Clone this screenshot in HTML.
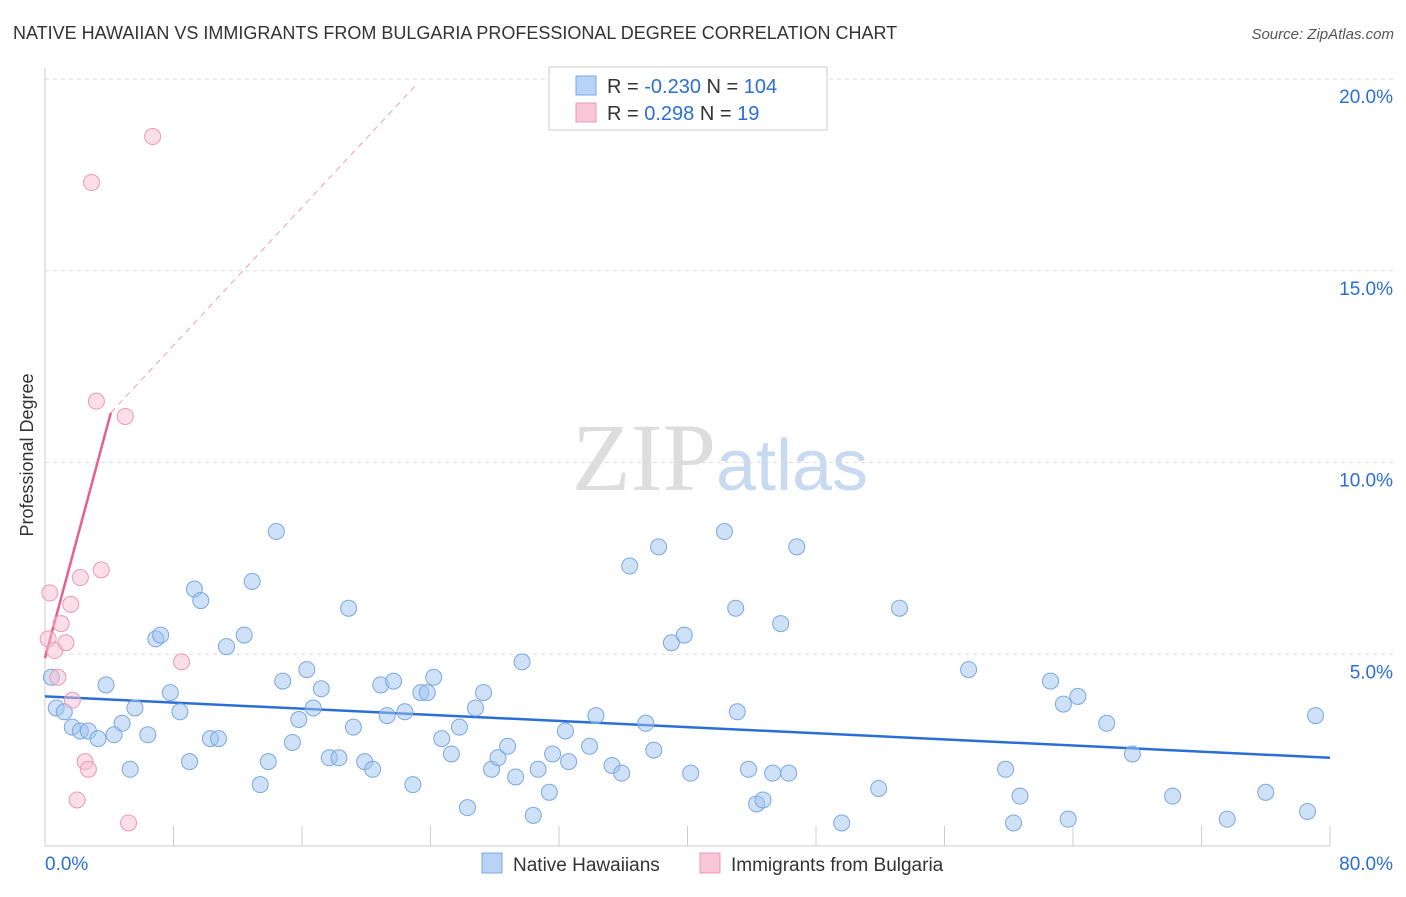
<!DOCTYPE html>
<html><head><meta charset="utf-8"><style>
body{margin:0;background:#fff;font-family:"Liberation Sans",sans-serif}
</style></head><body>
<svg width="1406" height="892" xmlns="http://www.w3.org/2000/svg" font-family="Liberation Sans, sans-serif">
<text x="13" y="39" font-size="18" fill="#333">NATIVE HAWAIIAN VS IMMIGRANTS FROM BULGARIA PROFESSIONAL DEGREE CORRELATION CHART</text>
<text x="1394" y="39" font-size="15" fill="#555" text-anchor="end" font-style="italic">Source: ZipAtlas.com</text>
<text x="720" y="490" font-size="96" text-anchor="middle" fill="#ddd" font-family="Liberation Serif, serif">ZIP<tspan fill="#c8daf0" font-family="Liberation Sans, sans-serif" font-size="72">atlas</tspan></text>
<g id="grid"></g><g id="axes"></g>
<text transform="translate(33,455) rotate(-90)" font-size="18" fill="#333" text-anchor="middle">Professional Degree</text>
<g id="trend"></g><g id="pts"></g>
<g>
<rect x="549" y="67" width="278" height="63" fill="#fff" stroke="#ccc"/>
<rect x="576" y="76" width="20" height="19" fill="#b8d3f5" stroke="#7aa8e0"/>
<rect x="576" y="103" width="20" height="19" fill="#f9c6d6" stroke="#ec98b4"/>
<text x="607" y="93" font-size="20" fill="#333">R = <tspan fill="#2a6fd6">-0.230</tspan>   N = <tspan fill="#2a6fd6">104</tspan></text>
<text x="607" y="120" font-size="20" fill="#333">R =   <tspan fill="#2a6fd6">0.298</tspan>   N =   <tspan fill="#2a6fd6">19</tspan></text>
</g>
<g>
<rect x="482" y="853" width="20" height="20" fill="#b8d3f5" stroke="#7aa8e0"/>
<text x="513" y="871" font-size="19" fill="#333">Native Hawaiians</text>
<rect x="700" y="853" width="20" height="20" fill="#f9c6d6" stroke="#ec98b4"/>
<text x="731" y="871" font-size="19" fill="#333">Immigrants from Bulgaria</text>
</g>
</svg>
<script>
const blueX=[0.4,0.7,1.2,1.7,2.2,2.7,3.3,3.8,4.3,4.8,5.3,5.6,6.4,6.9,7.2,7.8,8.4,9.0,9.3,9.7,10.3,10.8,11.3,12.4,12.9,13.4,13.9,14.4,14.8,15.4,15.8,16.3,16.7,17.2,17.7,18.3,18.9,19.2,19.9,20.4,20.9,21.3,21.7,22.4,22.9,23.4,23.8,24.2,24.7,25.3,25.8,26.3,26.8,27.3,27.8,28.2,28.8,29.3,29.7,30.4,30.7,31.4,31.6,32.4,32.6,33.9,34.3,35.3,35.9,36.4,37.4,37.9,38.2,39.0,39.8,40.2,42.3,43.0,43.1,43.8,44.3,44.7,45.3,45.8,46.3,46.8,49.6,51.9,53.2,57.5,59.8,60.3,60.7,62.6,63.4,63.7,64.3,66.1,67.7,70.2,73.6,76.0,78.6,79.1];
const blueY=[4.4,3.6,3.5,3.1,3.0,3.0,2.8,4.2,2.9,3.2,2.0,3.6,2.9,5.4,5.5,4.0,3.5,2.2,6.7,6.4,2.8,2.8,5.2,5.5,6.9,1.6,2.2,8.2,4.3,2.7,3.3,4.6,3.6,4.1,2.3,2.3,6.2,3.1,2.2,2.0,4.2,3.4,4.3,3.5,1.6,4.0,4.0,4.4,2.8,2.4,3.1,1.0,3.6,4.0,2.0,2.3,2.6,1.8,4.8,0.8,2.0,1.4,2.4,3.0,2.2,2.6,3.4,2.1,1.9,7.3,3.2,2.5,7.8,5.3,5.5,1.9,8.2,6.2,3.5,2.0,1.1,1.2,1.9,5.8,1.9,7.8,0.6,1.5,6.2,4.6,2.0,0.6,1.3,4.3,3.7,0.7,3.9,3.2,2.4,1.3,0.7,1.4,0.9,3.4];
const pinkX=[0.3,0.2,0.6,0.8,1.0,1.3,1.6,1.7,2.0,2.2,2.5,2.7,2.9,3.2,3.5,5.0,5.2,6.7,8.5];
const pinkY=[6.6,5.4,5.1,4.4,5.8,5.3,6.3,3.8,1.2,7.0,2.2,2.0,17.3,11.6,7.2,11.2,0.6,18.5,4.8];
const xTicks=[0,80],yTicks=[5,10,15,20];
const blueTrend=[[0,3.9],[80,2.3]],pinkTrend=[[0,4.9],[4.1,11.3],[23,19.8]];
const X=v=>45+v/80*1285,Y=v=>846-v*38.35,NS="http://www.w3.org/2000/svg";
function mk(t,a,p){const e=document.createElementNS(NS,t);for(const k in a)e.setAttribute(k,a[k]);p.appendChild(e);return e;}
const g=document.getElementById('grid'),ax=document.getElementById('axes'),tr=document.getElementById('trend'),pts=document.getElementById('pts');
yTicks.forEach(v=>{const l=mk('line',{x1:45,x2:1393,y1:Y(v),y2:Y(v),stroke:'#ddd','stroke-dasharray':'4,4'},g);

const t=mk('text',{x:1393,y:Y(v)+24,'font-size':19,fill:'#2a6fd6','text-anchor':'end'},ax);t.textContent=v.toFixed(1)+'%';
});
const axl=mk('line',{x1:45,x2:45,y1:68,y2:846,stroke:'#ccc'},ax);

const bx=mk('line',{x1:45,x2:1330,y1:846,y2:846,stroke:'#ccc'},ax);

for(let i=0;i<=10;i++){const tk=mk('line',{x1:X(i*8),x2:X(i*8),y1:826,y2:846,stroke:'#ccc'},ax);
}
xTicks.forEach((v,i)=>{const t=mk('text',{x:i?1393:45,y:870,'font-size':19,fill:'#2a6fd6','text-anchor':i?'end':'start'},ax);t.textContent=v.toFixed(1)+'%';
});
blueX.forEach((v,i)=>{const c=mk('circle',{cx:X(v),cy:Y(blueY[i]),r:8,fill:'rgba(160,195,240,0.5)',stroke:'#7aa8e0'},pts);
});
pinkX.forEach((v,i)=>{const c=mk('circle',{cx:X(v),cy:Y(pinkY[i]),r:8,fill:'rgba(248,190,210,0.5)',stroke:'#ec98b4'},pts);
});
const bl=mk('line',{x1:X(blueTrend[0][0]),y1:Y(blueTrend[0][1]),x2:X(blueTrend[1][0]),y2:Y(blueTrend[1][1]),stroke:'#2a6fd6','stroke-width':2.5},tr);

const ps=mk('line',{x1:X(pinkTrend[0][0]),y1:Y(pinkTrend[0][1]),x2:X(pinkTrend[1][0]),y2:Y(pinkTrend[1][1]),stroke:'#e8608e','stroke-width':2.5},tr);

const pd=mk('line',{x1:X(pinkTrend[1][0]),y1:Y(pinkTrend[1][1]),x2:X(pinkTrend[2][0]),y2:Y(pinkTrend[2][1]),stroke:'#eba0b8','stroke-width':1,'stroke-dasharray':'6,5'},tr);

</script>
</body></html>
